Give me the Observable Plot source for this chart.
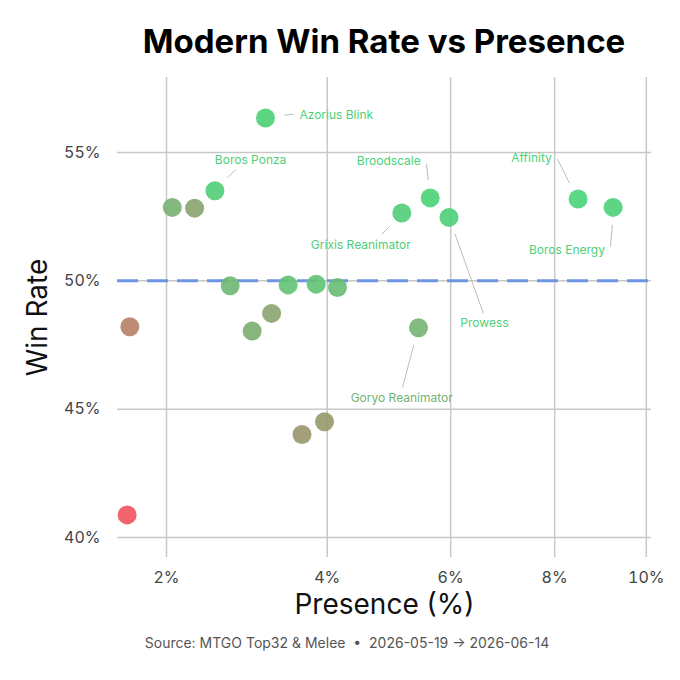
<!DOCTYPE html>
<html><head><meta charset="utf-8">
<script src="https://cdn.jsdelivr.net/npm/d3@7"></script>
<script src="https://cdn.jsdelivr.net/npm/@observablehq/plot@0.6"></script>
<style>
body{margin:0;background:#fff;font-family:Inter,sans-serif;}
#title{height:64px;box-sizing:border-box;padding-top:18px;line-height:47px;font-size:33px;font-weight:700;text-align:center;padding-left:88px;color:#000;white-space:nowrap}
#caption{height:38px;line-height:38px;font-size:14px;color:#555;text-align:center;padding-left:14px;white-space:pre}
svg{display:block}
</style></head><body>
<div id="title">Modern Win Rate vs Presence</div>
<div id="chart"></div>
<div id="caption">Source: MTGO Top32 &amp; Melee  •  2026-05-19 → 2026-06-14</div>
<script>
// ---- data ----
const decks = ["Azorius Blink","Boros Ponza",null,null,"Broodscale","Grixis Reanimator","Prowess","Affinity","Boros Energy",
  null,null,null,null,null,null,null,"Goryo Reanimator",null,null,null];
const presence = [3.15,2.53,2.06,2.30,5.64,5.16,5.97,8.49,9.25,
  2.71,3.45,3.84,4.15,3.23,2.98,1.64,5.44,3.64,3.96,1.615];
const winRate = [56.34,53.51,52.86,52.83,53.23,52.64,52.47,53.19,52.86,
  49.81,49.84,49.87,49.74,48.73,48.04,48.21,48.17,44.01,44.51,40.88];
const score = [0.98,0.95,0.72,0.62,0.98,0.95,0.97,1.0,0.97,
  0.78,0.86,0.86,0.82,0.62,0.70,0.35,0.74,0.52,0.54,0.0];
const xTicks = [2,4,6,8,10];
const yTicks = [40,45,50,55];
const baseline = 50;

// ---- label layout (pixel offsets from the dot) ----
const labelLayout = {
  "Azorius Blink":     {dx:70.8, dy:-3.3, leader:[19,-3,28,-3.8]},
  "Boros Ponza":       {dx:35.7, dy:-31,  leader:[12.7,-13,20.7,-21]},
  "Broodscale":        {dx:-41.4,dy:-36.7,leader:[-2,-17.7,-3.7,-34.3]},
  "Affinity":          {dx:-46.5,dy:-40.3,leader:[-8.6,-15.7,-20.6,-39.7]},
  "Grixis Reanimator": {dx:-41,  dy:31.7, leader:[-12.6,13.7,-20.3,21.4]},
  "Boros Energy":      {dx:-46.2,dy:42.3, leader:[-0.7,17.6,-2.7,39.3]},
  "Prowess":           {dx:35.5, dy:106,  leader:[6,16.6,34.4,96]},
  "Goryo Reanimator":  {dx:-16.8,dy:70,   leader:[-4.7,17,-16,59.7]}
};

const W=680, H=560, mL=117, mR=29, mT=13, mB=67;
const xDomain=[1.527,10.12], yDomain=[39.22,57.92];
const xs = d3.scaleSqrt().domain(xDomain).range([mL, W-mR]);
const ys = d3.scaleLinear().domain(yDomain).range([H-mB, mT]);

const data = decks.map((name,i)=>({name, presence:presence[i], winRate:winRate[i], score:score[i]}));
const labeled = data.filter(d=>d.name && labelLayout[d.name]).map(d=>{
  const L=labelLayout[d.name], px=xs(d.presence), py=ys(d.winRate);
  return {...d,
    lx: xs.invert(px+L.dx), ly: ys.invert(py+L.dy),
    x1: xs.invert(px+L.leader[0]), y1: ys.invert(py+L.leader[1]),
    x2: xs.invert(px+L.leader[2]), y2: ys.invert(py+L.leader[3])};
});

const chart = Plot.plot({
  width:W, height:H, marginLeft:mL, marginRight:mR, marginTop:mT, marginBottom:mB,
  style:{fontFamily:"Inter, sans-serif", background:"#fff"},
  x:{type:"sqrt", domain:xDomain},
  y:{domain:yDomain},
  color:{type:"linear", domain:[0,1], range:["#f2525e","#48d478"], interpolate:"rgb"},
  marks:[
    Plot.gridX(xTicks,{stroke:"#c8c8c8", strokeOpacity:1, strokeWidth:1.5}),
    Plot.gridY(yTicks,{stroke:"#c8c8c8", strokeOpacity:1, strokeWidth:1.5}),
    Plot.ruleY([baseline],{stroke:"#6e95e2", strokeWidth:3, strokeDasharray:"21,9"}),
    Plot.axisX(xTicks,{tickSize:0, tickPadding:14, tickFormat:d=>d+"%", fontSize:16, color:"#444", label:null}),
    Plot.axisY(yTicks,{tickSize:0, tickPadding:17, tickFormat:d=>d+"%", fontSize:16, color:"#444", label:null}),
    Plot.link(labeled,{x1:"x1", y1:"y1", x2:"x2", y2:"y2", stroke:"#bdbdbd", strokeWidth:1}),
    Plot.dot(data,{x:"presence", y:"winRate", r:9.5, fill:"score", fillOpacity:0.9}),
    Plot.text(labeled,{x:"lx", y:"ly", text:"name", fill:"score", fontSize:12}),
    Plot.text(["Presence (%)"],{frameAnchor:"bottom", dy:48, text:d=>d, fontSize:28, fill:"#111", textAnchor:"middle", lineAnchor:"middle"}),
    Plot.text(["Win Rate"],{frameAnchor:"left", dx:-79, rotate:-90, text:d=>d, fontSize:28, fill:"#111", textAnchor:"middle", lineAnchor:"middle"})
  ]
});
document.getElementById("chart").appendChild(chart);
</script>
</body></html>
